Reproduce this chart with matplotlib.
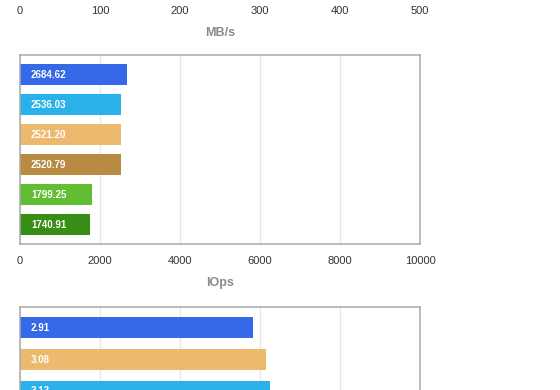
import matplotlib.pyplot as plt

plt.rcParams['font.family'] = ['Liberation Sans', 'DejaVu Sans']

# top chart (only its axis is visible)
mbs_ticks = [0, 100, 200, 300, 400, 500]

# middle chart: IOps
iops_values = [2684.62, 2536.03, 2521.20, 2520.79, 1799.25, 1740.91]
iops_colors = ['#3569e8', '#2bb1ea', '#edb96e', '#b98a42', '#62bd33', '#368e14']
iops_ticks = [0, 2000, 4000, 6000, 8000, 10000]

# bottom chart (partly visible)
lat_values = [2.91, 3.08, 3.13]
lat_colors = ['#3569e8', '#edb96e', '#2bb1ea']
lat_ticks = [0, 1, 2, 3, 4, 5]

W, H = 560, 390
fig = plt.figure(figsize=(5.6, 3.9), dpi=100)


def box(left, top, width, height):
    # pixel box -> figure fraction
    return [left / W, (H - top - height) / H, width / W, height / H]


def style(ax, ticks, label):
    ax.set_xlim(ticks[0], ticks[-1])
    ax.set_xticks(ticks)
    ax.set_xticklabels([str(t) for t in ticks])
    ax.set_yticks([])
    ax.tick_params(axis='x', length=0, pad=8.5, labelsize=8, labelcolor='#333333')
    for s in ax.spines.values():
        s.set_color('#aaaaaa')
        s.set_linewidth(1.1)
    ax.grid(axis='x', color='#e8e8e8', linewidth=1)
    ax.set_axisbelow(True)
    ax.set_xlabel(label, fontsize=9, color='#8a8a8a', fontweight='bold', labelpad=8)


def bars(ax, values, colors, fmt):
    pos = list(range(len(values)))
    ax.barh(pos, values, height=0.67, color=colors)
    for p, v in zip(pos, values):
        ax.annotate(fmt.format(v), (0, p), xytext=(8, 0), textcoords='offset points',
                    ha='left', va='center', color='white', fontsize=7, fontweight='bold')


ax1 = fig.add_axes(box(20, -195, 400, 189))
style(ax1, mbs_ticks, 'MB/s')

ax2 = fig.add_axes(box(20, 55, 400, 189))
bars(ax2, iops_values, iops_colors, '{:.2f}')
ax2.set_ylim(5.65, -0.65)
style(ax2, iops_ticks, 'IOps')

ax3 = fig.add_axes(box(20, 306.5, 400, 200))
bars(ax3, lat_values, lat_colors, '{:.2f}')
ax3.set_ylim(5.6, -0.66)
style(ax3, lat_ticks, '')

fig.savefig('out.png', dpi=100)
